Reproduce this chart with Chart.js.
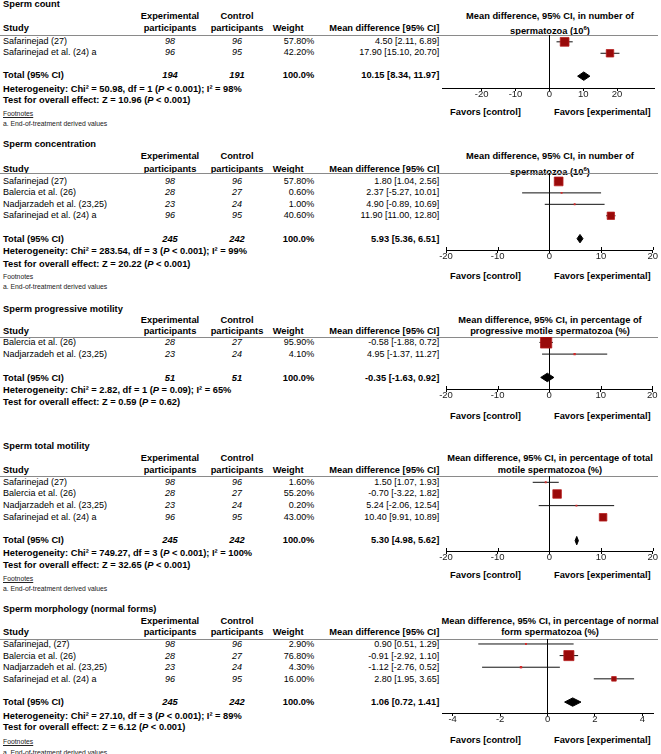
<!DOCTYPE html>
<html><head><meta charset="utf-8">
<script src="https://cdn.jsdelivr.net/npm/chart.js@4.4.0/dist/chart.umd.min.js"></script>
<style>
html,body{margin:0;padding:0;background:#fff;}
#page{position:relative;width:661px;height:754px;overflow:hidden;font-family:"Liberation Sans",Arial,sans-serif;color:#000;}
.t{position:absolute;white-space:nowrap;font-size:9px;line-height:11px;height:11px;}
.b{font-weight:bold;font-size:9.3px;}
.c{text-align:center;}
.r{text-align:right;}
.i{font-style:italic;}
.fn{font-size:6.8px;color:#222;}
.u{text-decoration:underline;}
.hl{position:absolute;height:1px;background:#8a8a8a;left:0;width:658px;}
.cw{position:absolute;}
</style></head>
<body><div id="page"></div>
<script>
// ================= DATA =================
// Sperm count
const countStudies = ["Safarinejad (27)", "Safarinejad et al.  (24) a"];
const countExp = [98, 96];
const countCtl = [96, 95];
const countWeight = [57.80, 42.20];
const countMD = [4.50, 17.90];
const countLo = [2.11, 15.10];
const countHi = [6.89, 20.70];
const countTotalN = [194, 191];
const countPooled = [10.15, 8.34, 11.97];
const countHet = "Heterogeneity: Chi² = 50.98, df = 1 (<i>P</i> &lt; 0.001); I² = 98%";
const countTest = "Test for overall effect: Z = 10.96 (<i>P</i> &lt; 0.001)";
const countTicks = [-20, -10, 0, 10, 20];
const countRange = [-31.5, 30.9];

// Sperm concentration
const concStudies = ["Safarinejad (27)", "Balercia et al.  (26)", "Nadjarzadeh et al.  (23,25)", "Safarinejad et al.  (24) a"];
const concExp = [98, 28, 23, 96];
const concCtl = [96, 27, 24, 95];
const concWeight = [57.80, 0.60, 1.00, 40.60];
const concMD = [1.80, 2.37, 4.90, 11.90];
const concLo = [1.04, -5.27, -0.89, 11.00];
const concHi = [2.56, 10.01, 10.69, 12.80];
const concTotalN = [245, 242];
const concPooled = [5.93, 5.36, 6.51];
const concHet = "Heterogeneity: Chi² = 283.54, df = 3 (<i>P</i> &lt; 0.001); I² = 99%";
const concTest = "Test for overall effect: Z = 20.22 (<i>P</i> &lt; 0.001)";
const concTicks = [-20, -10, 0, 10, 20];
const concRange = [-20, 20];

// Sperm progressive motility
const progStudies = ["Balercia et al.  (26)", "Nadjarzadeh et al.  (23,25)"];
const progExp = [28, 23];
const progCtl = [27, 24];
const progWeight = [95.90, 4.10];
const progMD = [-0.58, 4.95];
const progLo = [-1.88, -1.37];
const progHi = [0.72, 11.27];
const progTotalN = [51, 51];
const progPooled = [-0.35, -1.63, 0.92];
const progHet = "Heterogeneity: Chi² = 2.82, df = 1 (<i>P</i> = 0.09); I² = 65%";
const progTest = "Test for overall effect: Z = 0.59 (<i>P</i> = 0.62)";
const progTicks = [-20, -10, 0, 10, 20];
const progRange = [-20, 20];

// Sperm total motility
const totStudies = ["Safarinejad (27)", "Balercia et al.  (26)", "Nadjarzadeh et al.  (23,25)", "Safarinejad et al.  (24) a"];
const totExp = [98, 28, 23, 96];
const totCtl = [96, 27, 24, 95];
const totWeight = [1.60, 55.20, 0.20, 43.00];
const totMD = [1.50, -0.70, 5.24, 10.40];
const totLo = [1.07, -3.22, -2.06, 9.91];
const totHi = [1.93, 1.82, 12.54, 10.89];
// estimates as they are drawn in the plot (rows 1 and 2 appear swapped)
const totPlotMD = [-0.70, 1.50, 5.24, 10.40];
const totPlotLo = [-3.22, 1.07, -2.06, 9.91];
const totPlotHi = [1.82, 1.93, 12.54, 10.89];
const totTotalN = [245, 242];
const totPooled = [5.30, 4.98, 5.62];
const totHet = "Heterogeneity: Chi² = 749.27, df = 3 (<i>P</i> &lt; 0.001); I² = 100%";
const totTest = "Test for overall effect: Z = 32.65 (<i>P</i> &lt; 0.001)";
const totTicks = [-20, -10, 0, 10, 20];
const totRange = [-20, 20];

// Sperm morphology (normal forms)
const morStudies = ["Safarinejad, (27)", "Balercia et al.  (26)", "Nadjarzadeh et al.  (23,25)", "Safarinejad et al.  (24) a"];
const morExp = [98, 28, 23, 96];
const morCtl = [96, 27, 24, 95];
const morWeight = [2.90, 76.80, 4.30, 16.00];
const morMD = [0.90, -0.91, -1.12, 2.80];
const morLo = [0.51, -2.92, -2.76, 1.95];
const morHi = [1.29, 1.10, 0.52, 3.65];
// estimates as they are drawn in the plot (rows 1 and 2 appear swapped)
const morPlotMD = [-0.91, 0.90, -1.12, 2.80];
const morPlotLo = [-2.92, 0.51, -2.76, 1.95];
const morPlotHi = [1.10, 1.29, 0.52, 3.65];
const morTotalN = [245, 242];
const morPooled = [1.06, 0.72, 1.41];
const morHet = "Heterogeneity: Chi² = 27.10, df = 3 (<i>P</i> &lt; 0.001); I² = 89%";
const morTest = "Test for overall effect: Z = 6.12 (<i>P</i> &lt; 0.001)";
const morTicks = [-4, -2, 0, 2, 4];
const morRange = [-4.45, 4.45];

const footnoteText = "a. End-of-treatment derived values";

// ================= PANELS =================
const panels = [
  {title:"Sperm count", rh:["Mean difference, 95% CI, in number of","spermatozoa (10<sup style='font-size:6px;vertical-align:4px'>6</sup>)"],
   studies:countStudies, exp:countExp, ctl:countCtl, w:countWeight, md:countMD, lo:countLo, hi:countHi,
   pmd:countMD, plo:countLo, phi:countHi, tn:countTotalN, pooled:countPooled, het:countHet, test:countTest,
   ticks:countTicks, range:countRange, fn:true, fnU:true, endTicks:false,
   g:{title:4.5,h1:16.7,h2:28.6,line:34.5,rows:[41.3,52.7],total:75.7,het:89.8,test:100.3,fnA:113.3,fnB:123.3,fav:112.7,axis:87.3,cl:442.7,cr:656.7}},
  {title:"Sperm concentration", rh:["Mean difference, 95% CI, in number of","spermatozoa (10<sup style='font-size:6px;vertical-align:4px'>6</sup>)"],
   studies:concStudies, exp:concExp, ctl:concCtl, w:concWeight, md:concMD, lo:concLo, hi:concHi,
   pmd:concMD, plo:concLo, phi:concHi, tn:concTotalN, pooled:concPooled, het:concHet, test:concTest,
   ticks:concTicks, range:concRange, fn:true, fnU:false, endTicks:true,
   g:{title:144,h1:156.7,h2:169.3,line:173.3,rows:[181.7,192.9,204.3,215.9],total:239.3,het:251.3,test:264,fnA:276.7,fnB:286.7,fav:276.7,axis:250,cl:446,cr:652.7}},
  {title:"Sperm progressive motility", rh:["Mean difference, 95% CI, in percentage of","progressive motile spermatozoa (%)"],
   studies:progStudies, exp:progExp, ctl:progCtl, w:progWeight, md:progMD, lo:progLo, hi:progHi,
   pmd:progMD, plo:progLo, phi:progHi, tn:progTotalN, pooled:progPooled, het:progHet, test:progTest,
   ticks:progTicks, range:progRange, fn:false, endTicks:true,
   g:{title:309.3,h1:320,h2:331.7,line:337.3,rows:[342.7,354.3],total:378,het:390,test:402.3,fav:416,axis:389,cl:446,cr:652.7}},
  {title:"Sperm total motility", rh:["Mean difference, 95% CI, in percentage of total","motile spermatozoa (%)"],
   studies:totStudies, exp:totExp, ctl:totCtl, w:totWeight, md:totMD, lo:totLo, hi:totHi,
   pmd:totPlotMD, plo:totPlotLo, phi:totPlotHi, tn:totTotalN, pooled:totPooled, het:totHet, test:totTest,
   ticks:totTicks, range:totRange, fn:true, fnU:true, endTicks:true,
   g:{title:446.7,h1:458.3,h2:470,line:475.7,rows:[482,493.5,505.3,517],total:540.3,het:553.3,test:565,fnA:578.5,fnB:588.3,fav:575,axis:550.7,cl:446,cr:652.7}},
  {title:"Sperm morphology (normal forms)", rh:["Mean difference, 95% CI, in percentage of normal","form spermatozoa (%)"],
   studies:morStudies, exp:morExp, ctl:morCtl, w:morWeight, md:morMD, lo:morLo, hi:morHi,
   pmd:morPlotMD, plo:morPlotLo, phi:morPlotHi, tn:morTotalN, pooled:morPooled, het:morHet, test:morTest,
   ticks:morTicks, range:morRange, fn:true, fnU:true, endTicks:false,
   g:{title:609,h1:621.7,h2:632.3,line:639,rows:[644,656,667.5,679],total:702.5,het:716,test:727.7,fnA:741.7,fnB:752,fav:740,axis:713.3,cl:442,cr:655}}
];

// ================= RENDER =================
const page = document.getElementById('page');
const FONT = '"Liberation Sans", Arial, sans-serif';
const COL = {study:3, exp:170, ctl:237, wHead:272.7, wRight:314.3, mdRight:439.3, rhCenter:550, favC:485.5, favE:602.3};

function txt(html, cls, x, y, align){
  const d = document.createElement('div');
  d.className = 't ' + (cls||'');
  d.innerHTML = html;
  d.style.top = (y - 5.5) + 'px';
  if (align === 'c') { d.style.left = (x - 150) + 'px'; d.style.width = '300px'; d.classList.add('c'); }
  else if (align === 'r') { d.style.left = (x - 300) + 'px'; d.style.width = '300px'; d.classList.add('r'); }
  else { d.style.left = x + 'px'; }
  page.appendChild(d);
  return d;
}
const f2 = v => v.toFixed(2);
const ci = (m,l,h) => f2(m) + ' [' + f2(l) + ', ' + f2(h) + ']';

// small plugin: draws each tick mark also slightly above the axis line (as in the reference)
const crossTicks = {
  id:'crossTicks',
  afterDraw(chart, args, opts){
    if (!opts.enabled) return;
    const xs = chart.scales.x, ctx = chart.ctx, yA = chart.chartArea.bottom;
    ctx.save(); ctx.strokeStyle = '#000'; ctx.lineWidth = 1;
    xs.ticks.forEach(t => {
      const px = Math.round(xs.getPixelForValue(t.value)) + 0.5;
      ctx.beginPath(); ctx.moveTo(px, yA - 3); ctx.lineTo(px, yA); ctx.stroke();
    });
    ctx.restore();
  }
};

panels.forEach(p => {
  const g = p.g;
  txt(p.title, 'b', COL.study, g.title);
  txt('Experimental', 'b', COL.exp, g.h1, 'c');
  txt('participants', 'b', COL.exp, g.h2, 'c');
  txt('Control', 'b', COL.ctl, g.h1, 'c');
  txt('participants', 'b', COL.ctl, g.h2, 'c');
  txt('Study', 'b', COL.study, g.h2);
  txt('Weight', 'b', COL.wHead, g.h2);
  txt('Mean difference [95% CI]', 'b', COL.mdRight, g.h2, 'r');
  txt(p.rh[0], 'b', COL.rhCenter, g.h1, 'c');
  txt(p.rh[1], 'b', COL.rhCenter, g.h2, 'c');
  const hl = document.createElement('div'); hl.className = 'hl'; hl.style.top = Math.round(g.line) + 'px'; page.appendChild(hl);

  p.studies.forEach((s, i) => {
    const y = g.rows[i];
    txt(s, '', COL.study, y);
    txt(String(p.exp[i]), 'i', COL.exp, y, 'c');
    txt(String(p.ctl[i]), 'i', COL.ctl, y, 'c');
    txt(p.w[i].toFixed(2) + '%', '', COL.wRight, y, 'r');
    txt(ci(p.md[i], p.lo[i], p.hi[i]), '', COL.mdRight, y, 'r');
  });
  txt('Total (95% CI)', 'b', COL.study, g.total);
  txt(String(p.tn[0]), 'b i', COL.exp, g.total, 'c');
  txt(String(p.tn[1]), 'b i', COL.ctl, g.total, 'c');
  txt('100.0%', 'b', COL.wRight, g.total, 'r');
  txt(ci(p.pooled[0], p.pooled[1], p.pooled[2]), 'b', COL.mdRight, g.total, 'r');
  txt(p.het, 'b', COL.study, g.het);
  txt(p.test, 'b', COL.study, g.test);
  if (p.fn) {
    txt('Footnotes', 'fn' + (p.fnU ? ' u' : ''), COL.study, g.fnA);
    txt(footnoteText, 'fn', COL.study, g.fnB);
  }
  txt('Favors [control]', 'b', COL.favC, g.fav, 'c');
  txt('Favors [experimental]', 'b', COL.favE, g.fav, 'c');

  // ---- forest chart ----
  const n = p.studies.length;
  const sp = (g.rows[n-1] - g.rows[0]) / (n - 1);
  const yTop = 1 + (g.line - g.rows[0]) / sp;
  const yBot = 1 + (g.axis - g.rows[0]) / sp;
  const totalRow = n + 2;
  const padTop = 10, axisH = 22, cvLeft = 428, cvW = 661 - cvLeft;
  const cvH = Math.round(padTop + (g.axis - g.line) + axisH);
  const wrap = document.createElement('div');
  wrap.className = 'cw';
  wrap.style.left = cvLeft + 'px';
  wrap.style.top = (g.line - padTop) + 'px';
  wrap.style.width = cvW + 'px';
  wrap.style.height = cvH + 'px';
  const cv = document.createElement('canvas');
  cv.width = cvW; cv.height = cvH;
  wrap.appendChild(cv);
  page.appendChild(wrap);

  const datasets = [];
  for (let i = 0; i < n; i++) {
    datasets.push({type:'scatter', showLine:true, data:[{x:p.plo[i], y:i+1},{x:p.phi[i], y:i+1}],
      borderColor:'#111', borderWidth:1, pointRadius:0, fill:false, order:2});
  }
  datasets.push({type:'scatter', data:p.pmd.map((v,i)=>({x:v, y:i+1})),
    pointStyle:'rect',
    pointRadius: p.w.map(w => Math.max(1.9, 1.15*Math.sqrt(w)) / Math.SQRT2),
    backgroundColor: p.w.map(w => w < 10 ? '#d42a2a' : '#990a0a'),
    borderColor: p.w.map(w => w < 10 ? '#d42a2a' : '#b82020'),
    borderWidth: p.w.map(w => w < 10 ? 0 : 0.8), order:1});
  const hh = 4.2 / sp;
  const [pe, pl, ph] = p.pooled;
  datasets.push({type:'scatter', showLine:true,
    data:[{x:pl,y:totalRow},{x:pe,y:totalRow-hh},{x:ph,y:totalRow},{x:pe,y:totalRow+hh},{x:pl,y:totalRow}],
    borderColor:'#000', backgroundColor:'#000', borderWidth:1, pointRadius:0, fill:'shape', tension:0, order:0});

  const ticks = p.ticks;
  new Chart(cv, {
    type:'scatter',
    data:{datasets},
    plugins:[crossTicks],
    options:{
      responsive:false, animation:false, events:[],
      layout:{padding:{left:g.cl - cvLeft, right:661 - g.cr, top:padTop, bottom:0}},
      plugins:{legend:{display:false}, tooltip:{enabled:false}, crossTicks:{enabled:p.endTicks}},
      scales:{
        x:{type:'linear', position:'bottom', min:p.range[0], max:p.range[1],
          afterBuildTicks: s => { s.ticks = ticks.map(v => ({value:v})); },
          afterFit: s => { s.height = axisH; s.paddingLeft = 0; s.paddingRight = 0; },
          ticks:{callback: v => String(v), font:{family:FONT, size:9.5}, color:'#222', padding:-2, maxRotation:0, autoSkip:false},
          grid:{color: c => (c.tick && c.tick.value === 0) ? '#000' : 'rgba(0,0,0,0)', tickColor:'#000', tickLength:3, lineWidth:1, drawOnChartArea:true},
          border:{display:true, color:'#000', width:1}},
        y:{type:'linear', reverse:true, min:yTop, max:yBot, display:false}
      }
    }
  });
});
</script>
</body></html>
